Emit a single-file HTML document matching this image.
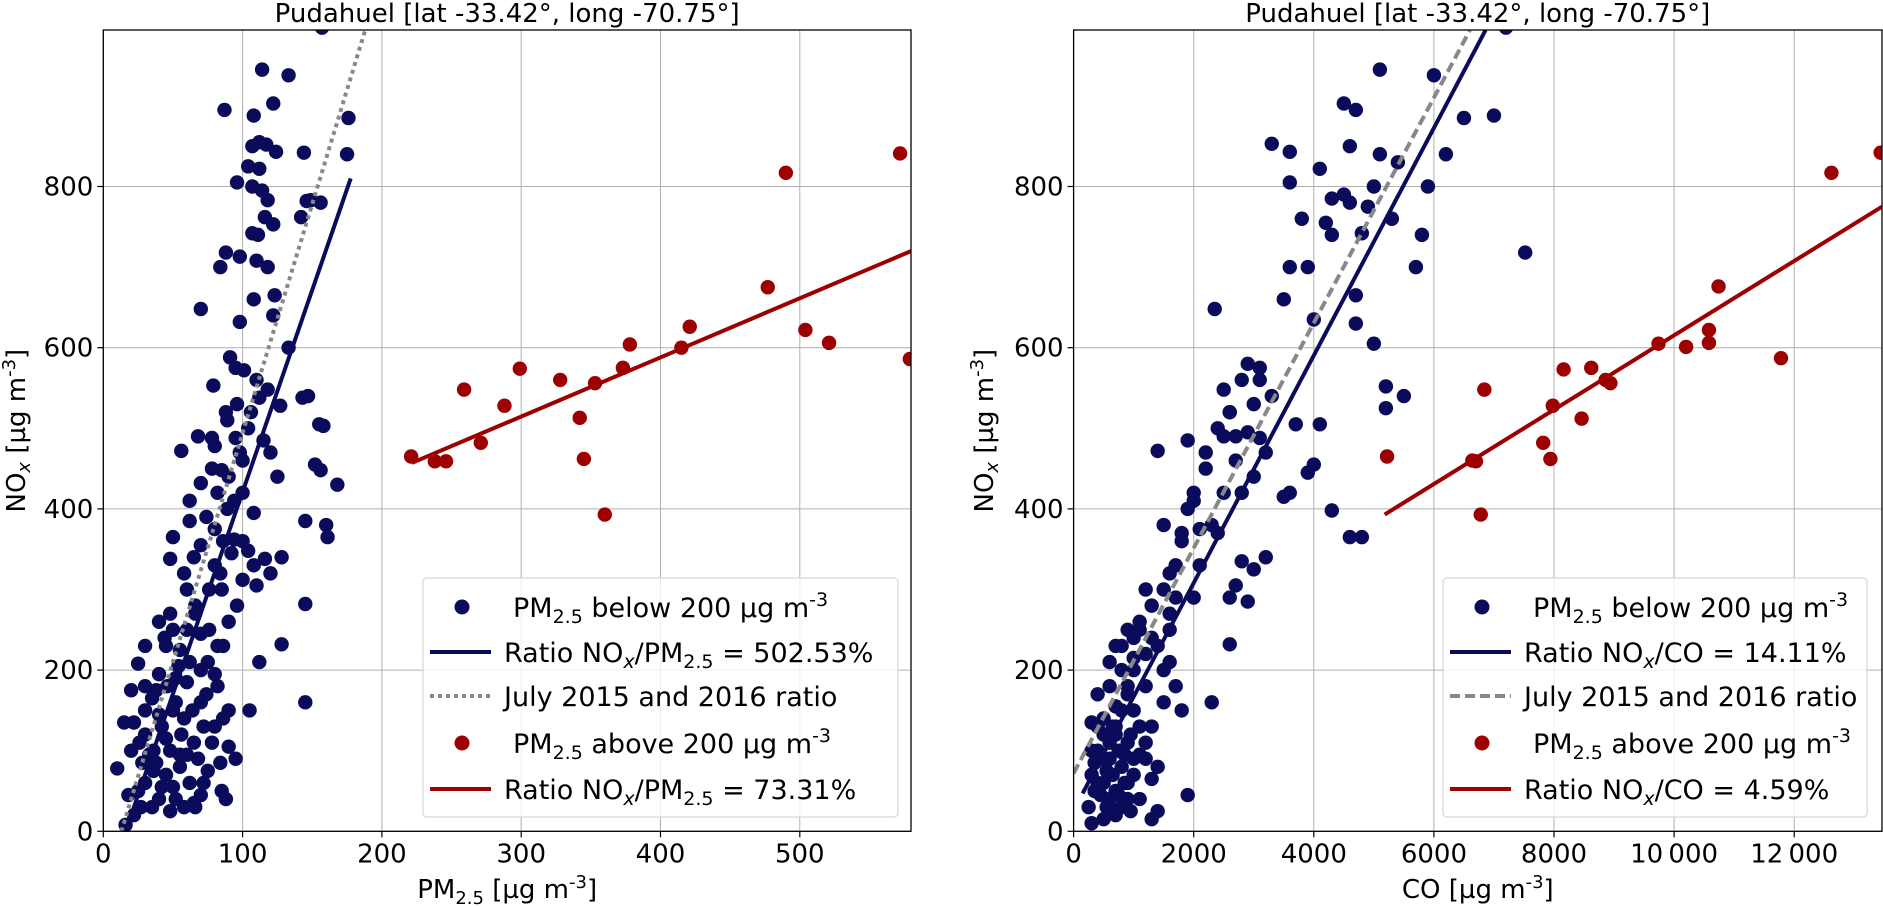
<!DOCTYPE html>
<html><head><meta charset="utf-8">
<style>
html,body{margin:0;padding:0;background:#fff;}
svg{display:block;font-family:"DejaVu Sans","Liberation Sans",sans-serif;}
</style></head>
<body>
<svg id="chart" width="1883" height="907" viewBox="0 0 1883 907" xmlns="http://www.w3.org/2000/svg"></svg>
<script>
// ---------- data ----------
const leftBelowPM = [157,114,133,122,87,108,176,112,117,107,124,144,175,112,104,96,107,114,118,146,149,116,142,122,107,111,156,88,98,84,110,118,123,108,70,122,98,133,91,95,101,110,79,112,118,143,147,96,127,106,89,155,158,68,78,95,115,80,56,120,100,152,156,85,70,168,125,100,62,89,108,145,160,62,80,50,161,94,70,104,116,128,48,80,120,100,110,60,145,85,40,50,70,30,55,128,112,25,40,60,82,20,35,70,145,105,50,15,30,45,65,90,20,10,38,55,75,30,50,85,18,40,65,22,48,16,70,60,80,42,30,95,36,52,66,45,58,75,27,
22,26,33,45,52,58,62,68,72,78,84,88,42,36,56,64,74,80,86,90,46,54,48,60,66,76,82,30,25,35,48,58,70,62,44,52,40,72,86,90,66,55,28,38,76,84,92,100,108,96,65,74,82,90,98,104,88,94,86,78];
const leftBelowNOx = [997,945,938,903,895,888,885,855,852,850,843,842,840,822,825,805,800,795,783,782,783,762,762,753,742,740,780,718,713,700,708,700,665,660,648,640,632,600,588,575,572,560,553,538,548,538,540,530,528,520,510,505,503,490,488,488,485,478,472,470,460,455,448,448,432,430,440,420,410,400,395,385,380,385,375,365,365,362,355,348,338,340,338,330,320,312,305,300,282,300,260,250,245,230,225,232,210,208,195,185,180,175,165,160,160,150,150,135,120,115,110,105,100,78,85,80,75,60,55,50,45,40,35,20,25,8,45,95,130,130,150,90,100,190,270,230,320,210,30,
135,110,95,70,40,30,60,90,130,110,85,40,55,75,120,150,170,195,230,260,180,205,270,250,280,250,230,180,50,30,100,140,200,210,240,160,145,60,140,150,30,95,85,175,300,320,345,360,330,280,340,390,420,440,470,500,520,410,360,450];
const leftAbovePM = [221,238,246,259,271,288,299,328,342,345,353,360,373,378,415,421,477,490,504,521,572,579];
const leftAboveNOx = [465,459,459,548,482,528,574,560,513,462,556,393,575,604,600,626,675,817,622,606,841,586];
const rightBelowCO = [7200,5100,6000,4500,4700,7000,6500,3300,4600,5100,5400,6200,3600,4100,3600,5000,5900,4500,4300,4600,4900,3800,4200,5300,4300,4800,5800,7520,3600,3900,5700,4700,2350,3500,4000,4700,5000,3100,2900,3100,2800,2500,3300,5200,5500,5200,3000,2600,3700,4100,2900,2700,2500,3100,1900,2200,3200,1400,2700,4000,3900,3000,3500,3600,2800,2000,4300,4600,4800,1500,2100,1800,2400,3200,3000,2800,2700,2900,2600,1600,2000,1200,1700,1600,1100,2600,1300,800,1000,600,1500,2300,1200,900,700,1000,1800,500,300,700,900,1100,1300,1400,1900,400,600,800,300,500,700,900,1300,1400,250,300,600,450,850,550,1000,650,750,1200,350,950,500,
400,500,600,700,800,900,1000,600,700,800,500,400,900,1000,1100,650,750,850,950,550,350,1200,800,700,900,1100,1300,1500,1700,1800,1900,2000,2200,2400,2600,1400,1600,1200,1000,1500,1700,600,400,300,1100,1300,1600,2100,2300,2500];
const rightBelowNOx = [997,945,938,903,895,888,885,853,850,840,830,840,843,822,805,800,800,790,785,780,775,760,755,760,740,742,740,718,700,700,700,665,648,660,635,630,605,575,580,560,560,548,540,552,540,525,530,520,505,505,495,490,490,488,485,470,470,472,460,455,445,440,415,420,420,410,398,365,365,380,375,360,370,340,325,335,305,285,290,320,290,300,290,270,250,232,240,230,215,210,200,160,180,170,155,150,150,140,135,120,110,95,65,80,45,100,90,80,70,60,50,40,15,25,30,10,30,45,60,75,70,130,100,110,85,25,15,
60,90,110,130,150,60,90,40,20,30,120,130,180,200,130,70,45,95,120,30,50,90,200,230,250,260,280,300,330,370,400,420,450,500,520,230,250,220,240,160,180,180,170,100,40,130,210,330,380,420];
const rightAboveCO = [5220,6640,6700,6780,6840,7820,7940,7980,8160,8460,8620,8860,8940,9740,10200,10580,10580,10740,11780,12620,13440];
const rightAboveNOx = [465,460,459,393,548,482,462,528,573,512,575,560,556,605,601,622,606,676,587,817,842];
const leftXTicks = [0,100,200,300,400,500];
const rightXTicks = [0,2000,4000,6000,8000,10000,12000];
const rightXTickLabels = ["0","2000","4000","6000","8000","10\u2009000","12\u2009000"];
const yTicks = [0,200,400,600,800];
// fitted / reference lines: [x0, y0, x1, y1] in data units
const leftFitBelow = [16, 0, 177.6, 810];
const leftJuly = [13, 0, 188, 994];
const leftFitAbove = [221.5, 457, 580, 720];
const rightFitBelow = [150, 47, 6860, 994];
const rightJuly = [0, 72, 6600, 994];
const rightFitAbove = [5180, 393, 13462, 775];

const NS = "http://www.w3.org/2000/svg";
const svg = document.getElementById('chart');
const NAVY = "#0b0b5c", RED = "#9c0000", GRAY = "#888888";
function el(tag, attrs, parent){
  const e = document.createElementNS(NS, tag);
  for (const k in attrs) e.setAttribute(k, attrs[k]);
  (parent||svg).appendChild(e);
  return e;
}
const Y0 = 831.3, YK = 0.806, TOP = 30;
function makeY(){ return v => Y0 - v*YK; }

function panel(cfg){
  const g = el('g', {});
  
  
  const X = v => cfg.x0 + v*cfg.xk;
  const Y = makeY();
  const L = cfg.x0, R = cfg.xr;
  cfg.xticks.forEach((t,i)=>{
    const gl = el('line',{x1:X(t),x2:X(t),y1:TOP,y2:Y0,stroke:"#b0b0b0","stroke-width":1},g);
    
    
    const tk = el('line',{x1:X(t),x2:X(t),y1:Y0,y2:Y0+6,stroke:"#000","stroke-width":1.2},g);
    
    
    const tl = el('text',{x:X(t),y:Y0+31,"text-anchor":"middle","font-size":26,fill:"#000"},g);
    tl.textContent = cfg.xlabels[i];
    
    
  });
  yTicks.forEach(t=>{
    const gl = el('line',{x1:L,x2:R,y1:Y(t),y2:Y(t),stroke:"#b0b0b0","stroke-width":1},g);
    
    
    const tk = el('line',{x1:L-6,x2:L,y1:Y(t),y2:Y(t),stroke:"#000","stroke-width":1.2},g);
    
    
    const tl = el('text',{x:L-10,y:Y(t)+9,"text-anchor":"end","font-size":26,fill:"#000"},g);
    tl.textContent = String(t);
    
    
  });
  const clipId = cfg.name+'-clip';
  const cp = el('clipPath',{id:clipId},g);
  el('rect',{x:L,y:TOP,width:R-L,height:Y0-TOP},cp);
  const plot = el('g',{'clip-path':`url(#${clipId})`},g);
  cfg.bx.forEach((v,i)=>{
    const c = el('circle',{cx:X(v),cy:Y(cfg.by[i]),r:7.2,fill:NAVY},plot);
    
    
  });
  cfg.ax.forEach((v,i)=>{
    const c = el('circle',{cx:X(v),cy:Y(cfg.ay[i]),r:7.2,fill:RED},plot);
    
    
  });
  function ln(d, color, dash, name){
    const a = {x1:X(d[0]),y1:Y(d[1]),x2:X(d[2]),y2:Y(d[3]),stroke:color,"stroke-width":4};
    if (dash) a["stroke-dasharray"] = dash;
    const l = el('line',a,plot);
    
    
  }
  ln(cfg.july, GRAY, cfg.dash, 'july-ratio-line');
  ln(cfg.fitB, NAVY, null, 'fit-line-below-200');
  ln(cfg.fitA, RED, null, 'fit-line-above-200');
  const fr = el('rect',{x:L,y:TOP,width:R-L,height:Y0-TOP,fill:"none",stroke:"#000","stroke-width":1.3},g);
  
  
  const ti = el('text',{x:(L+R)/2,y:22,"text-anchor":"middle","font-size":26,fill:"#000"},g);
  ti.textContent = "Pudahuel [lat -33.42°, long -70.75°]";
  
  
  const xl = el('text',{x:(L+R)/2,y:898,"text-anchor":"middle","font-size":26,fill:"#000"},g);
  xl.innerHTML = cfg.xlabelHTML;
  
  
  const yl = el('text',{x:0,y:0,"text-anchor":"middle","font-size":26,fill:"#000",transform:`translate(${cfg.ylx},${(TOP+Y0)/2}) rotate(-90)`},g);
  yl.innerHTML = 'NO<tspan font-size="18" dy="5" font-style="italic">x</tspan><tspan dy="-5"> [µg m</tspan><tspan font-size="18" dy="-10">-3</tspan><tspan dy="10">]</tspan>';
  
  
  const lg = el('g',{},g);
  
  
  const lx = cfg.legX, lw = cfg.legW;
  el('rect',{x:lx,y:578,width:lw,height:239,rx:4,fill:"#fff","fill-opacity":0.8,stroke:"#d6d6d6","stroke-width":1.2},lg);
  const rows = [607,652,696,743,789];
  cfg.legend.forEach((row,i)=>{
    const ent = el('g',{},lg);
    
    
    const y = rows[i];
    if (row.kind==='dot') el('circle',{cx:lx+39,cy:y,r:7.5,fill:row.color},ent);
    else {
      const a = {x1:lx+7,x2:lx+68,y1:y,y2:y,stroke:row.color,"stroke-width":4};
      if (row.dash) a["stroke-dasharray"]=row.dash;
      el('line',a,ent);
    }
    const t = el('text',{x:lx+(row.kind==='dot'?90:81),y:y+10,"font-size":27,fill:"#000"},ent);
    t.innerHTML = row.html;
  });
}
const PM = 'PM<tspan font-size="19" dy="6">2.5</tspan><tspan dy="-6">';
const below = PM + ' below 200 µg m</tspan><tspan font-size="19" dy="-11">-3</tspan>';
const above = PM + ' above 200 µg m</tspan><tspan font-size="19" dy="-11">-3</tspan>';
const NOX = 'Ratio NO<tspan font-size="19" dy="6" font-style="italic">x</tspan><tspan dy="-6">';
panel({
  name:'left-panel', x0:103.3, xk:1.393, xr:911, xticks:leftXTicks, xlabels:leftXTicks.map(String),
  bx:leftBelowPM, by:leftBelowNOx, ax:leftAbovePM, ay:leftAboveNOx,
  fitB:leftFitBelow, july:leftJuly, fitA:leftFitAbove, dash:"4,4",
  xlabelHTML:'PM<tspan font-size="18" dy="6">2.5</tspan><tspan dy="-6"> [µg m</tspan><tspan font-size="18" dy="-10">-3</tspan><tspan dy="10">]</tspan>',
  ylx:25, legX:423, legW:475,
  legend:[
    {kind:'dot',color:NAVY,html:below},
    {kind:'line',color:NAVY,html:NOX+'/PM</tspan><tspan font-size="19" dy="6">2.5</tspan><tspan dy="-6"> = 502.53%</tspan>'},
    {kind:'line',color:GRAY,dash:"4,4",html:'July 2015 and 2016 ratio'},
    {kind:'dot',color:RED,html:above},
    {kind:'line',color:RED,html:NOX+'/PM</tspan><tspan font-size="19" dy="6">2.5</tspan><tspan dy="-6"> = 73.31%</tspan>'}
  ]
});
panel({
  name:'right-panel', x0:1073.6, xk:0.06005, xr:1882, xticks:rightXTicks, xlabels:rightXTickLabels,
  bx:rightBelowCO, by:rightBelowNOx, ax:rightAboveCO, ay:rightAboveNOx,
  fitB:rightFitBelow, july:rightJuly, fitA:rightFitAbove, dash:"10,5",
  xlabelHTML:'CO [µg m<tspan font-size="18" dy="-10">-3</tspan><tspan dy="10">]</tspan>',
  ylx:993, legX:1443, legW:424,
  legend:[
    {kind:'dot',color:NAVY,html:below},
    {kind:'line',color:NAVY,html:NOX+'/CO = 14.11%</tspan>'},
    {kind:'line',color:GRAY,dash:"10,5",html:'July 2015 and 2016 ratio'},
    {kind:'dot',color:RED,html:above},
    {kind:'line',color:RED,html:NOX+'/CO = 4.59%</tspan>'}
  ]
});
</script>
</body></html>
